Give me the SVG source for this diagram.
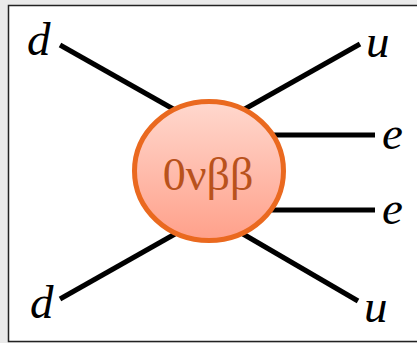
<svg xmlns="http://www.w3.org/2000/svg" width="417" height="343" viewBox="0 0 417 343">
<defs>
<linearGradient id="g" x1="0" y1="0" x2="0" y2="1">
<stop offset="0" stop-color="#FFD8CE"/>
<stop offset="1" stop-color="#FFA08A"/>
</linearGradient>
<style>
.ln{stroke:#000;stroke-width:5;fill:none}
.lbl{font-family:"Liberation Serif",serif;font-style:italic;font-size:47px;fill:#000}
</style>
</defs>
<rect width="417" height="343" fill="#EAEAEA"/>
<rect x="8.5" y="5.5" width="420" height="336" fill="#fff" stroke="#222" stroke-width="1.5"/>
<g id="connectors">
<line class="ln" x1="60" y1="45" x2="175" y2="110"/>
<line class="ln" x1="360" y1="44" x2="243" y2="110"/>
<line class="ln" x1="60" y1="299" x2="175" y2="234"/>
<line class="ln" x1="358" y1="301" x2="243" y2="234"/>
<line class="ln" x1="268" y1="135" x2="375" y2="135"/>
<line class="ln" x1="268" y1="210" x2="375" y2="210"/>
</g>
<g id="vertex">
<ellipse cx="209" cy="171" rx="74.5" ry="69.5" fill="url(#g)" stroke="#EA691F" stroke-width="5"/>
<text x="208" y="190" text-anchor="middle" font-family="'Liberation Serif',serif" font-size="46" fill="#B9521C">0νββ</text>
</g>
<g id="d1"><text class="lbl" x="27" y="55">d</text></g>
<g id="u1"><text class="lbl" x="366" y="57">u</text></g>
<g id="e1"><text class="lbl" x="382" y="149">e</text></g>
<g id="e2"><text class="lbl" x="382" y="224">e</text></g>
<g id="d2"><text class="lbl" x="30" y="318">d</text></g>
<g id="u2"><text class="lbl" x="364" y="322">u</text></g>
</svg>
